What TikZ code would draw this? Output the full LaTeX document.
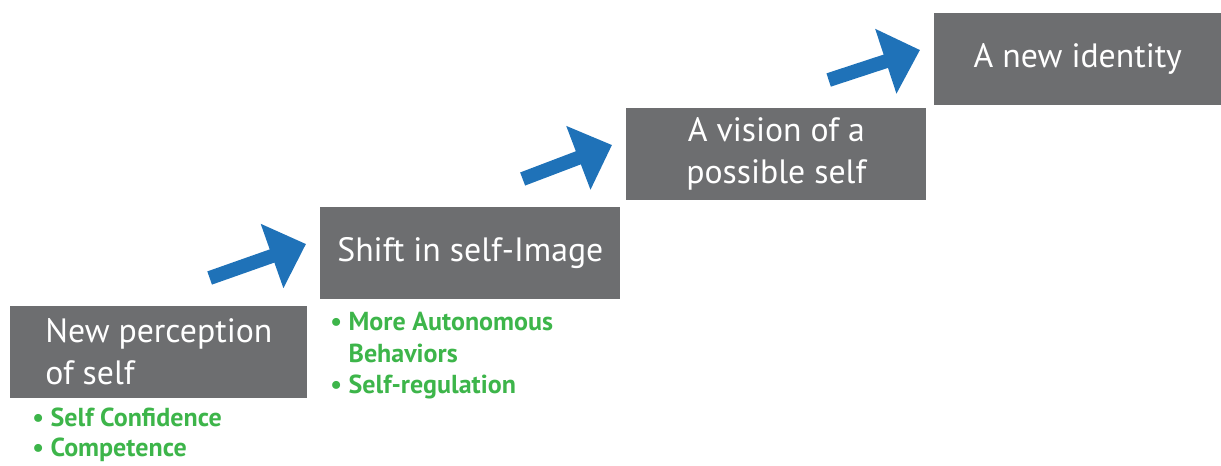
\documentclass[tikz,border=0pt]{standalone}
\usepackage{fontspec}
\setmainfont{PT Sans}
\usetikzlibrary{arrows.meta,calc}
\definecolor{stepgray}{HTML}{6D6E70}
\definecolor{stepblue}{HTML}{1F72B8}
\definecolor{notegreen}{HTML}{3DB54A}
\begin{document}
\begin{tikzpicture}[x=0.025cm,y=-0.025cm,
        stepbox/.style={fill=stepgray,text=white,anchor=north west,inner sep=0pt,
            minimum width=7.5cm,minimum height=2.28cm,
            font=\fontsize{24}{29.5}\selectfont},
        notetext/.style={text=notegreen,anchor=north west,inner sep=0pt,align=left,
            font=\bfseries\fontsize{18.5}{22.5}\selectfont},
        stairarrow/.style={draw=stepblue,line width=0.35cm,
            -{Triangle[length=0.9cm,width=1.65cm]}}]
            \useasboundingbox (0,0) rectangle (1221,466);
            % steps
            \node[stepbox,minimum width=7.425cm,align=left] (b1) at (10,306) {New perception\\of self};
            \node[stepbox,align=center] (b2) at (320,207) {Shift in self-Image};
            \node[stepbox,align=center] (b3) at (626,108) {A vision of a\\possible self};
            \node[stepbox,minimum width=7.175cm,align=center] (b4) at (934,13) {A new identity};
            % notes under the steps
            \node[notetext,font=\bfseries\fontsize{18.5}{21.5}\selectfont] (n1) at ($(b1.south west)+(22,10)$) {\textbullet\ Self Confidence\\\textbullet\ Competence};
            \node[notetext] (n2) at ($(b2.south west)+(10,13)$) {\textbullet\ More Autonomous\\\phantom{\textbullet\ }Behaviors\\\textbullet\ Self-regulation};
            % arrows between the steps
            \foreach \from/\to in {b1/b2,b2/b3,b3/b4}
                \draw[stairarrow] ($(\from.north east)+(-98,-28)$) -- ($(\to.north west)+(-14,37)$);
        \end{tikzpicture}
\end{document}
